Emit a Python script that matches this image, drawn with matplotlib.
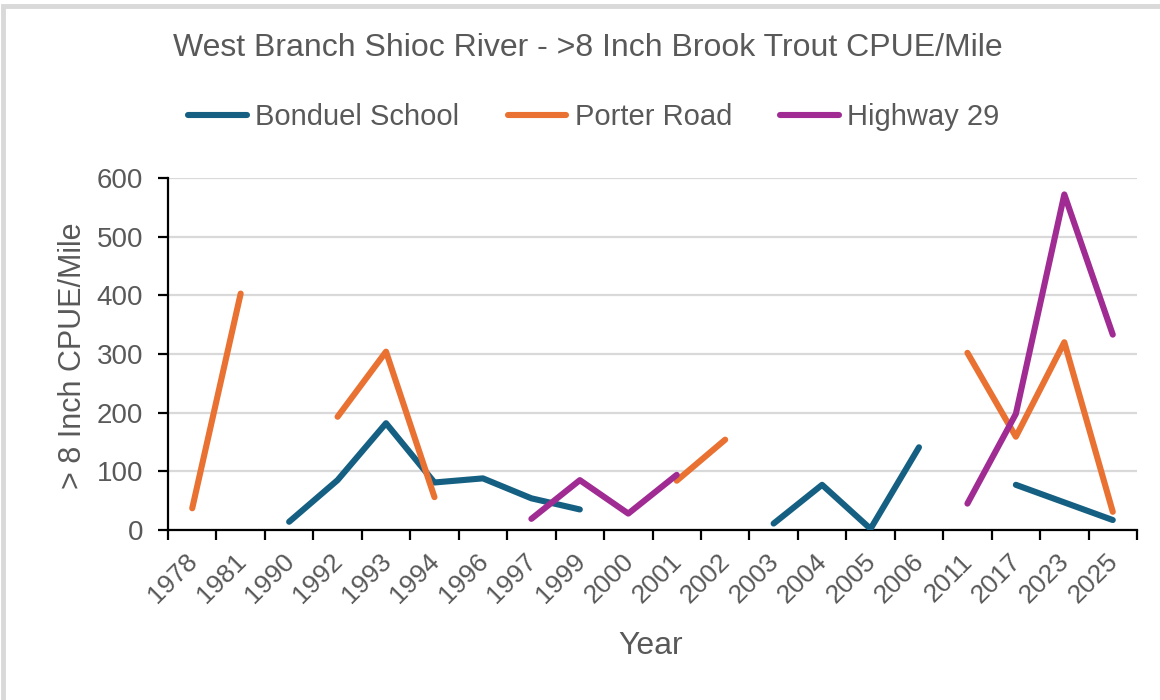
import numpy as np
import matplotlib
matplotlib.use("Agg")
import matplotlib.pyplot as plt
from matplotlib.patches import Rectangle
from matplotlib.lines import Line2D

nan = np.nan
years = ["1978", "1981", "1990", "1992", "1993", "1994", "1996", "1997", "1999", "2000",
         "2001", "2002", "2003", "2004", "2005", "2006", "2011", "2017", "2023", "2025"]
bonduel = [nan, nan, 14, 85, 182, 81, 88, 54, 35, nan,
           nan, nan, 11, 77, 2, 141, nan, 77, 47, 17]
porter = [37, 403, nan, 193, 304, 56, nan, nan, nan, nan,
          84, 154, nan, nan, nan, nan, 302, 159, 320, 31]
highway = [nan, nan, nan, nan, nan, nan, nan, 19, 85, 28,
           94, nan, nan, nan, nan, nan, 45, 198, 572, 333]
series_names = ["Bonduel School", "Porter Road", "Highway 29"]
colors = ["#156082", "#E97132", "#A02B93"]

plt.rcParams['font.family'] = ['Liberation Sans', 'DejaVu Sans']
txt = "#595959"
LW = 4.4

fig = plt.figure(figsize=(11.6, 7), dpi=100)
fig.patches.append(Rectangle((3/1160, -0.01), 1.02, (700-6)/700 + 0.01, transform=fig.transFigure,
                             fill=False, edgecolor="#D9D9D9", linewidth=3.5))
ax = fig.add_axes([168/1160, 1-530/700, (1137-168)/1160, (530-178)/700])

x = np.arange(len(years))
for vals, c in zip([bonduel, porter, highway], colors):
    ax.plot(x, vals, color=c, lw=LW, solid_capstyle='round', solid_joinstyle='round', zorder=3)

ax.set_xlim(-0.5, len(years) - 0.5)
ax.set_ylim(0, 600)
ax.set_yticks(range(0, 601, 100))
ax.yaxis.grid(True, color="#D9D9D9", lw=1.6)
ax.set_axisbelow(True)
for s in ["top", "right"]:
    ax.spines[s].set_visible(False)
for s in ["left", "bottom"]:
    ax.spines[s].set_linewidth(1.6)
    ax.spines[s].set_color("black")
ax.tick_params(axis='y', length=7, width=1.6, labelsize=20, labelcolor=txt, pad=11)
ax.set_xticks(np.arange(len(years) + 1) - 0.5)
ax.set_xticklabels([])
ax.tick_params(axis='x', length=7, width=1.6)
for xi, lab in zip(x, years):
    ax.annotate(lab, (xi, 0), xycoords=('data', 'axes fraction'), xytext=(1, -20),
                textcoords='offset points', rotation=45, ha='right', va='center',
                rotation_mode='anchor', fontsize=19, color=txt)

ax.set_ylabel("> 8 Inch CPUE/Mile", fontsize=22, color=txt)
ax.yaxis.set_label_coords(88/1160, 1-356/700, transform=fig.transFigure)
fig.text(651/1160, 1-646/700, "Year", fontsize=23, color=txt, ha='center', va='center')
fig.text(588/1160, 1-48/700, "West Branch Shioc River - >8 Inch Brook Trout CPUE/Mile",
         fontsize=23, color=txt, ha='center', va='center')

handles = [Line2D([0], [0], color=c, lw=LW, solid_capstyle='round') for c in colors]
leg = fig.legend(handles, series_names, loc='center', bbox_to_anchor=(594/1160, 1-117/700),
                 ncol=3, frameon=False, fontsize=21, handlelength=2.0, handletextpad=0.3,
                 columnspacing=1.65, borderpad=0, borderaxespad=0)
for t in leg.get_texts():
    t.set_color(txt)

fig.savefig("out.png", dpi=100)
